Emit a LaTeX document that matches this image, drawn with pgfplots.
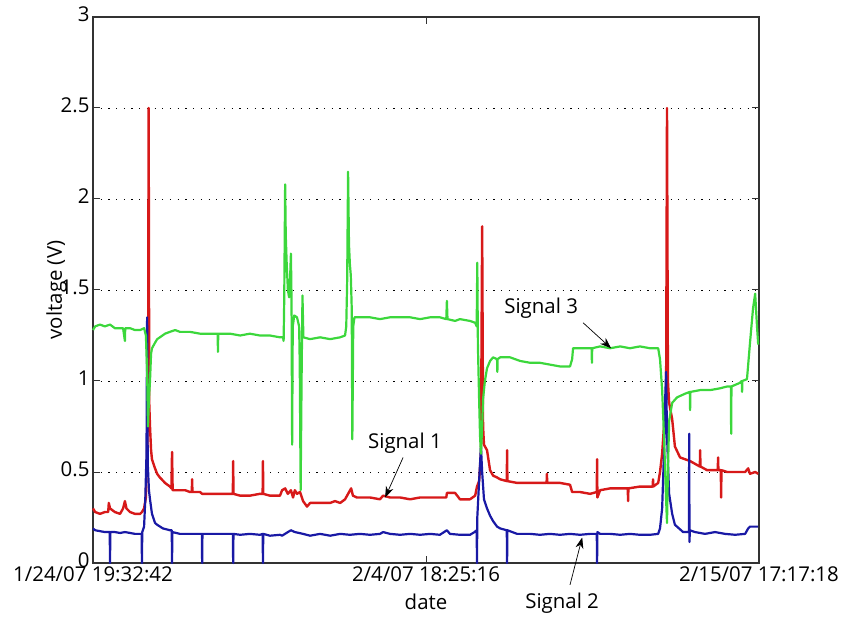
\documentclass[border=0pt]{standalone}
\usepackage{fontspec}
\setmainfont{Open Sans}
\usepackage{pgfplots}
\pgfplotsset{compat=1.18}
\usetikzlibrary{arrows.meta}
\definecolor{sigred}{RGB}{215,25,25}
\definecolor{sigblue}{RGB}{25,25,165}
\definecolor{siggreen}{RGB}{60,215,60}
\begin{document}
\begin{tikzpicture}[font=\fontsize{20.5}{24}\selectfont]
\begin{axis}[
  scale only axis, width=666bp, height=546bp,
  xmin=0, xmax=21.906, ymin=0, ymax=3,
  xtick={0,10.953,21.906},
  xticklabels={1/24/07 19:32:42, 2/4/07 18:25:16, 2/15/07 17:17:18},
  ytick={0,0.5,1,1.5,2,2.5,3},
  yticklabels={0,0.5,1,1.5,2,2.5,3},
  /pgf/number format/assume math mode=true,
  ymajorgrids,
  grid style={black, line width=0.9bp, dash pattern=on 1.2bp off 6.5bp},
  tick align=inside, major tick length=7bp,
  axis line style={line width=1.2bp, black!80},
  every tick/.style={black!80, line width=1bp},
  yticklabel style={yshift=3bp},
  xlabel={date}, ylabel={voltage (V)},
  xlabel style={yshift=-6bp},
  ylabel style={yshift=-13bp},
  clip=false,
]
% Signal 1 (red)
\addplot[sigred, line width=2.4bp, line join=round] coordinates {
(0,0.30) (0.07,0.28) (0.23,0.27) (0.39,0.28) (0.50,0.28) (0.52,0.33) (0.56,0.30) (0.72,0.28) (0.89,0.27) (0.99,0.30) (1.05,0.34) (1.10,0.30) (1.22,0.28) (1.38,0.27) (1.55,0.27) (1.61,0.28) (1.68,0.30) (1.74,0.36) (1.78,0.60) (1.81,0.85) (1.83,2.50) (1.85,0.88) (1.875,0.75) (1.91,0.62) (1.94,0.57) (2.04,0.52) (2.11,0.49) (2.20,0.47) (2.37,0.44) (2.53,0.42) (2.58,0.41) (2.60,0.61) (2.62,0.40) (2.86,0.40) (3.03,0.40) (3.19,0.39) (3.25,0.39) (3.26,0.46) (3.27,0.39) (3.52,0.39) (3.59,0.38) (3.85,0.38) (4.18,0.38) (4.51,0.38) (4.60,0.38) (4.61,0.56) (4.62,0.38) (4.84,0.37) (5.16,0.37) (5.49,0.38) (5.58,0.38) (5.59,0.56) (5.60,0.38) (5.82,0.37) (6.15,0.37) (6.22,0.40) (6.32,0.41) (6.41,0.38) (6.51,0.40) (6.58,0.36) (6.64,0.40) (6.71,0.38) (6.81,0.39) (6.91,0.34) (7.04,0.31) (7.14,0.33) (7.47,0.33) (7.80,0.33) (7.96,0.34) (8.13,0.33) (8.29,0.35) (8.49,0.41) (8.55,0.37) (8.68,0.36) (9.11,0.36) (9.44,0.35) (9.54,0.37) (9.77,0.36) (10.10,0.36) (10.43,0.35) (10.76,0.36) (11.09,0.36) (11.41,0.36) (11.62,0.36) (11.64,0.385) (11.91,0.385) (12.07,0.35) (12.40,0.35) (12.57,0.37) (12.63,0.42) (12.70,0.45) (12.76,0.60) (12.80,1.85) (12.83,0.75) (12.86,0.65) (12.96,0.62) (13.06,0.51) (13.16,0.48) (13.29,0.47) (13.39,0.46) (13.61,0.45) (13.62,0.62) (13.63,0.45) (13.95,0.44) (14.05,0.44) (14.38,0.44) (14.70,0.44) (14.92,0.44) (14.93,0.49) (14.94,0.44) (15.36,0.44) (15.69,0.43) (15.76,0.39) (16.02,0.39) (16.35,0.38) (16.57,0.39) (16.58,0.57) (16.59,0.36) (16.68,0.40) (17.01,0.41) (17.34,0.41) (17.59,0.41) (17.60,0.34) (17.61,0.41) (17.99,0.42) (18.32,0.42) (18.41,0.42) (18.42,0.46) (18.43,0.42) (18.59,0.44) (18.65,0.50) (18.72,0.60) (18.78,0.75) (18.85,0.90) (18.88,2.50) (18.91,1.00) (18.95,0.88) (19.05,0.79) (19.14,0.64) (19.31,0.58) (19.64,0.56) (19.96,0.53) (19.97,0.62) (19.98,0.53) (20.20,0.51) (20.55,0.51) (20.56,0.58) (20.57,0.51) (20.65,0.51) (20.66,0.36) (20.67,0.51) (20.86,0.50) (21.28,0.50) (21.45,0.50) (21.55,0.52) (21.61,0.49) (21.78,0.50) (21.88,0.49)
};
% Signal 2 (blue)
\addplot[sigblue, line width=2.2bp, line join=round] coordinates {
(0,0.19) (0.07,0.18) (0.23,0.175) (0.39,0.17) (0.55,0.17) (0.56,0.0) (0.57,0.17) (0.72,0.17) (0.89,0.165) (1.05,0.17) (1.22,0.165) (1.38,0.16) (1.55,0.16) (1.60,0.16) (1.61,0.0) (1.62,0.17) (1.68,0.20) (1.72,0.35) (1.76,0.60) (1.78,1.35) (1.80,0.55) (1.84,0.40) (1.875,0.35) (1.94,0.27) (2.04,0.22) (2.11,0.21) (2.30,0.19) (2.53,0.18) (2.59,0.18) (2.60,0.0) (2.61,0.17) (2.86,0.16) (3.19,0.16) (3.52,0.16) (3.58,0.16) (3.59,0.0) (3.60,0.16) (3.85,0.16) (4.18,0.16) (4.51,0.16) (4.60,0.16) (4.61,0.0) (4.62,0.16) (4.84,0.155) (5.16,0.16) (5.49,0.155) (5.58,0.16) (5.59,0.0) (5.60,0.16) (5.82,0.15) (6.15,0.155) (6.22,0.15) (6.41,0.17) (6.51,0.18) (6.64,0.17) (6.91,0.16) (7.14,0.15) (7.47,0.16) (7.80,0.15) (8.13,0.16) (8.45,0.155) (8.78,0.16) (9.11,0.155) (9.44,0.16) (9.54,0.17) (9.77,0.16) (10.10,0.155) (10.43,0.16) (10.76,0.155) (11.09,0.16) (11.41,0.155) (11.64,0.18) (11.74,0.16) (12.07,0.155) (12.40,0.155) (12.55,0.17) (12.62,0.18) (12.63,0.0) (12.64,0.25) (12.70,0.45) (12.76,0.64) (12.80,0.50) (12.86,0.35) (12.96,0.30) (13.06,0.26) (13.16,0.23) (13.29,0.20) (13.39,0.19) (13.61,0.18) (13.62,0.0) (13.63,0.18) (13.95,0.16) (14.38,0.16) (14.70,0.155) (15.03,0.16) (15.36,0.155) (15.69,0.16) (16.02,0.155) (16.35,0.16) (16.57,0.16) (16.58,0.0) (16.59,0.17) (16.68,0.16) (17.01,0.16) (17.34,0.155) (17.66,0.16) (17.99,0.155) (18.32,0.155) (18.59,0.16) (18.65,0.19) (18.72,0.30) (18.78,0.60) (18.82,0.90) (18.85,1.05) (18.88,0.70) (18.95,0.38) (19.05,0.27) (19.14,0.21) (19.41,0.17) (19.60,0.17) (19.61,0.71) (19.62,0.115) (19.63,0.18) (19.80,0.17) (20.13,0.16) (20.46,0.17) (20.79,0.16) (21.12,0.155) (21.45,0.16) (21.55,0.19) (21.61,0.20) (21.88,0.20)
};
% Signal 3 (green)
\addplot[siggreen, line width=2.2bp, line join=round] coordinates {
(0,1.28) (0.07,1.30) (0.23,1.31) (0.39,1.30) (0.56,1.31) (0.72,1.29) (0.89,1.29) (0.99,1.29) (1.05,1.22) (1.06,1.29) (1.22,1.29) (1.38,1.28) (1.55,1.28) (1.68,1.29) (1.74,1.25) (1.78,1.05) (1.81,0.75) (1.84,0.90) (1.875,1.00) (1.91,1.15) (1.94,1.18) (2.04,1.21) (2.11,1.23) (2.20,1.24) (2.37,1.26) (2.53,1.27) (2.70,1.28) (2.86,1.27) (3.19,1.27) (3.52,1.26) (3.85,1.26) (4.10,1.26) (4.11,1.16) (4.12,1.26) (4.51,1.26) (4.84,1.25) (5.16,1.26) (5.49,1.25) (5.82,1.25) (6.15,1.24) (6.25,1.24) (6.27,1.22) (6.29,1.45) (6.32,2.08) (6.34,1.80) (6.37,1.65) (6.41,1.50) (6.45,1.46) (6.48,1.55) (6.51,1.70) (6.53,1.45) (6.55,0.65) (6.57,1.30) (6.62,1.36) (6.71,1.35) (6.78,1.30) (6.80,1.10) (6.83,0.40) (6.86,1.00) (6.89,1.47) (6.92,1.24) (7.14,1.23) (7.47,1.24) (7.80,1.23) (8.13,1.24) (8.29,1.25) (8.33,1.30) (8.36,1.55) (8.39,2.15) (8.42,1.75) (8.45,1.64) (8.48,1.58) (8.51,1.40) (8.53,0.68) (8.56,1.30) (8.60,1.35) (9.11,1.35) (9.44,1.34) (9.77,1.35) (10.10,1.35) (10.43,1.35) (10.76,1.34) (11.09,1.35) (11.41,1.35) (11.62,1.34) (11.64,1.44) (11.66,1.34) (11.91,1.33) (12.07,1.34) (12.40,1.33) (12.57,1.32) (12.62,1.30) (12.64,1.65) (12.66,1.20) (12.70,0.90) (12.73,0.70) (12.76,0.60) (12.80,0.75) (12.83,0.90) (12.89,1.00) (12.96,1.07) (13.06,1.11) (13.16,1.13) (13.29,1.12) (13.30,1.05) (13.31,1.12) (13.39,1.13) (13.72,1.13) (14.05,1.11) (14.38,1.10) (14.70,1.10) (15.03,1.09) (15.36,1.08) (15.69,1.08) (15.76,1.12) (15.79,1.18) (16.02,1.18) (16.35,1.18) (16.40,1.18) (16.41,1.10) (16.42,1.18) (16.68,1.19) (17.01,1.18) (17.34,1.19) (17.66,1.18) (17.99,1.19) (18.32,1.18) (18.59,1.18) (18.65,1.12) (18.72,0.95) (18.78,0.70) (18.85,0.35) (18.88,0.22) (18.91,0.50) (18.95,0.78) (19.05,0.88) (19.21,0.91) (19.47,0.93) (19.63,0.94) (19.64,0.84) (19.65,0.94) (19.97,0.95) (20.30,0.95) (20.63,0.96) (20.86,0.97) (20.98,0.97) (20.99,0.71) (21.00,0.97) (21.28,0.99) (21.34,1.00) (21.35,0.94) (21.36,1.00) (21.51,1.01) (21.61,1.21) (21.71,1.40) (21.78,1.48) (21.84,1.30) (21.88,1.20)
};
% annotations
\node at (axis cs:10.26,0.66) {Signal 1};
\draw[-{Stealth[length=11bp,width=8bp]}, line width=0.7bp] (axis cs:10.20,0.58) -- (axis cs:9.61,0.36);
\node at (axis cs:14.74,1.40) {Signal 3};
\draw[-{Stealth[length=11bp,width=8bp]}, line width=0.7bp] (axis cs:16.12,1.32) -- (axis cs:17.04,1.18);
\node at (axis cs:15.43,-0.22) {Signal 2};
\draw[-{Stealth[length=11bp,width=8bp]}, line width=0.7bp] (axis cs:15.69,-0.12) -- (axis cs:16.09,0.14);
% page extent
\path ([xshift=-93bp,yshift=-57bp]rel axis cs:0,0) rectangle ([xshift=85bp,yshift=17bp]rel axis cs:1,1);
\end{axis}
\end{tikzpicture}
\end{document}
